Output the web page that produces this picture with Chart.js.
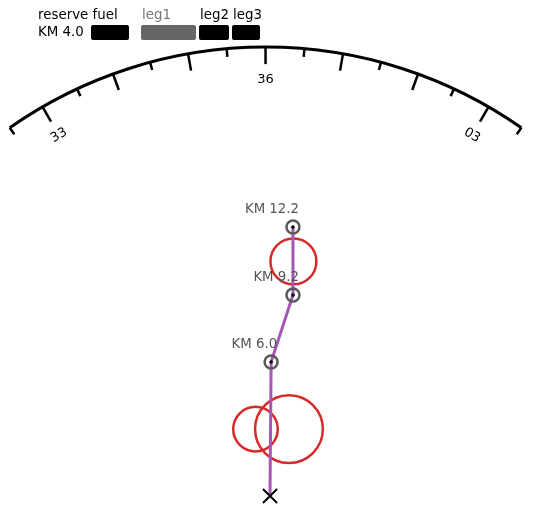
<!DOCTYPE html>
<html>
<head>
<meta charset="utf-8">
<script src="https://cdn.jsdelivr.net/npm/chart.js@4.4.1/dist/chart.umd.min.js"></script>
<style>
  html, body { margin: 0; padding: 0; background: #fff; }
  #wrap { width: 533px; height: 509px; }
</style>
</head>
<body>
<div id="wrap"><canvas id="navChart" width="533" height="509"></canvas></div>
<script>
// Route waypoints (km east / km north of the start marker)
const routeLabels = ['', 'KM 6.0', 'KM 9.2', 'KM 12.2'];
const routeX = [0, 0.05, 1.03, 1.03];
const routeY = [0, 6.01, 9.01, 12.06];

// Weather cells (centre in km, radius in km)
const cellX = [1.05, -0.65, 0.85];
const cellY = [10.52, 3.0, 3.0];
const cellR = [1.03, 1.0, 1.52];

// Heading arc
const arcCenter = [-0.2, 0.13];
const arcRadius = 20.0;
const tickHeadings = [-35, -30, -25, -20, -15, -10, -5, 0, 5, 10, 15, 20, 25, 30, 35];
const majorHeadings = [-30, -20, -10, 0, 10, 20, 30];
const labelHeadings = [-30, 0, 30];
const labelTexts = ['33', '36', '03'];

// Legend
const reserveTitle = 'reserve fuel';
const reserveValue = 'KM 4.0';
const legendLabels = ['leg1', 'leg2', 'leg3'];

const FONT = '"DejaVu Sans", sans-serif';

const waypoints = routeX.map((x, i) => ({ x: x, y: routeY[i], label: routeLabels[i] }));
const cells = cellX.map((x, i) => ({ x: x, y: cellY[i], rk: cellR[i] }));

function kmToPx(chart, km) {
    const s = chart.scales.x;
    return Math.abs(s.getPixelForValue(km) - s.getPixelForValue(0));
}

/**
 * Heading arc with ticks and labels
 */
const arcPlugin = {
    id: 'headingArc',
    afterDatasetsDraw(chart) {
        const ctx = chart.ctx;
        const cx = chart.scales.x.getPixelForValue(arcCenter[0]);
        const cy = chart.scales.y.getPixelForValue(arcCenter[1]);
        const r = kmToPx(chart, arcRadius);
        const toRad = d => (d - 90) * Math.PI / 180;

        ctx.save();
        ctx.strokeStyle = '#000';
        ctx.lineWidth = 3;
        ctx.beginPath();
        ctx.arc(cx, cy, r, toRad(tickHeadings[0]), toRad(tickHeadings[tickHeadings.length - 1]));
        ctx.stroke();

        ctx.lineWidth = 2.5;
        tickHeadings.forEach(h => {
            const len = majorHeadings.includes(h) ? 17 : 8;
            const a = toRad(h);
            ctx.beginPath();
            ctx.moveTo(cx + r * Math.cos(a), cy + r * Math.sin(a));
            ctx.lineTo(cx + (r - len) * Math.cos(a), cy + (r - len) * Math.sin(a));
            ctx.stroke();
        });

        ctx.fillStyle = '#000';
        ctx.font = '13px ' + FONT;
        ctx.textAlign = 'center';
        ctx.textBaseline = 'middle';
        labelHeadings.forEach((h, i) => {
            const a = toRad(h);
            const lr = r - 33;
            ctx.save();
            ctx.translate(cx + lr * Math.cos(a), cy + lr * Math.sin(a));
            ctx.rotate(h * Math.PI / 180);
            ctx.fillText(labelTexts[i], 0, 0);
            ctx.restore();
        });
        ctx.restore();
    }
};

/**
 * Waypoint labels
 */
const labelPlugin = {
    id: 'waypointLabels',
    afterDatasetsDraw(chart) {
        const ctx = chart.ctx;
        ctx.save();
        ctx.fillStyle = '#555';
        ctx.font = '13.3px ' + FONT;
        ctx.textAlign = 'right';
        ctx.textBaseline = 'middle';
        waypoints.forEach(p => {
            if (!p.label) return;
            const px = chart.scales.x.getPixelForValue(p.x);
            const py = chart.scales.y.getPixelForValue(p.y);
            ctx.fillText(p.label, px + 6, py - 17.5);
        });
        ctx.restore();
    }
};

/**
 * Custom legend on top left
 */
function roundBox(ctx, x, y, w, h, r) {
    ctx.beginPath();
    ctx.moveTo(x + r, y);
    ctx.arcTo(x + w, y, x + w, y + h, r);
    ctx.arcTo(x + w, y + h, x, y + h, r);
    ctx.arcTo(x, y + h, x, y, r);
    ctx.arcTo(x, y, x + w, y, r);
    ctx.closePath();
    ctx.fill();
}

const legendPlugin = {
    id: 'fuelLegend',
    afterDraw(chart) {
        const ctx = chart.ctx;
        ctx.save();
        ctx.font = '13.4px ' + FONT;
        ctx.textBaseline = 'middle';
        ctx.textAlign = 'left';
        ctx.fillStyle = '#000';
        ctx.fillText(reserveTitle, 38, 16);
        ctx.fillText(reserveValue, 38, 33);

        roundBox(ctx, 91, 25, 38, 15, 2);

        const boxes = [
            { x: 141, w: 55, color: '#666', text: '#777' },
            { x: 199, w: 30, color: '#000', text: '#000' },
            { x: 232, w: 28, color: '#000', text: '#000' }
        ];
        boxes.forEach((b, i) => {
            ctx.fillStyle = b.color;
            roundBox(ctx, b.x, 25, b.w, 15, 2);
            ctx.fillStyle = b.text;
            ctx.fillText(legendLabels[i], b.x + 1, 16);
        });
        ctx.restore();
    }
};

const ctx = document.getElementById('navChart').getContext('2d');

new Chart(ctx, {
    type: 'scatter',
    data: {
        datasets: [
            {
                // centre dots of waypoints
                data: waypoints.slice(1),
                pointRadius: 1.8,
                pointBackgroundColor: '#000',
                pointBorderWidth: 0
            },
            {
                // waypoint rings
                data: waypoints.slice(1),
                pointRadius: 6.5,
                pointBackgroundColor: 'rgba(0,0,0,0)',
                pointBorderColor: '#5a5a5a',
                pointBorderWidth: 2.5
            },
            {
                // start marker
                data: waypoints.slice(0, 1),
                pointStyle: 'crossRot',
                pointRadius: 10,
                pointBorderColor: '#000',
                pointBorderWidth: 2
            },
            {
                // route line
                data: waypoints,
                showLine: true,
                borderColor: '#a457b4',
                borderWidth: 3,
                pointRadius: 0
            },
            {
                // weather cells
                data: cells,
                pointRadius: c => c.raw ? kmToPx(c.chart, c.raw.rk) : 0,
                pointBackgroundColor: 'rgba(0,0,0,0)',
                pointBorderColor: '#d42a2a',
                pointBorderWidth: 2.5
            }
        ]
    },
    options: {
        responsive: false,
        animation: false,
        events: [],
        layout: { padding: 0, autoPadding: false },
        plugins: {
            legend: { display: false },
            tooltip: { enabled: false }
        },
        scales: {
            x: { type: 'linear', display: false, min: -12.108, max: 11.794 },
            y: { type: 'linear', display: false, min: -0.583, max: 22.242 }
        }
    },
    plugins: [arcPlugin, labelPlugin, legendPlugin]
});
</script>
</body>
</html>
